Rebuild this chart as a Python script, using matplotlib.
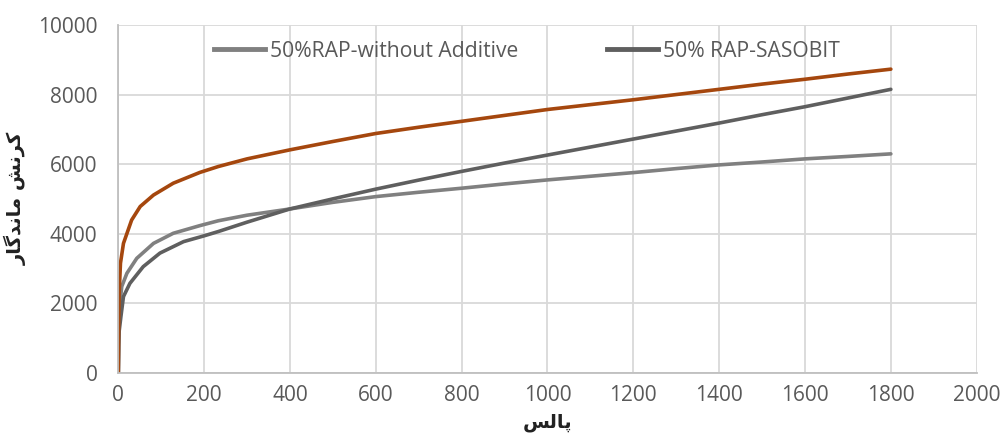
import matplotlib
matplotlib.use('Agg')
import matplotlib.pyplot as plt
from matplotlib.lines import Line2D

# values (pulse count vs permanent strain)
x_orange = [0, 1, 2, 5, 12, 31, 51, 82, 128, 190, 233, 300, 400, 500, 600, 700,
            800, 900, 1000, 1100, 1200, 1300, 1400, 1500, 1600, 1700, 1800]
y_orange = [0, 1500, 2300, 3150, 3720, 4390, 4780, 5110, 5450, 5760, 5930, 6150,
            6410, 6650, 6880, 7060, 7230, 7400, 7570, 7710, 7850, 8000, 8150,
            8300, 8440, 8590, 8730]

x_sasobit = [0, 1, 2, 6, 12, 27, 58, 97, 152, 198, 233, 300, 400, 500, 600, 700,
             800, 900, 1000, 1100, 1200, 1300, 1400, 1500, 1600, 1700, 1800]
y_sasobit = [0, 800, 1200, 1610, 2190, 2570, 3050, 3440, 3770, 3930, 4060, 4330,
             4710, 5000, 5280, 5540, 5790, 6030, 6260, 6490, 6720, 6950, 7180,
             7420, 7650, 7900, 8150]

x_noadd = [0, 1, 3, 8, 20, 43, 82, 128, 190, 233, 300, 400, 500, 600, 700, 800,
           900, 1000, 1100, 1200, 1300, 1400, 1500, 1600, 1700, 1800]
y_noadd = [0, 1200, 1900, 2480, 2860, 3290, 3720, 4010, 4230, 4370, 4530, 4710,
           4900, 5065, 5190, 5306, 5430, 5545, 5650, 5755, 5870, 5977, 6060,
           6150, 6220, 6294]

legend_labels = ['50%RAP-without Additive', '50% RAP-SASOBIT']
x_ticks = list(range(0, 2001, 200))
y_ticks = list(range(0, 10001, 2000))

xlabel_fa = 'پالس'
ylabel_fa = 'کرنش ماندگار'

ORANGE = '#A5470E'
LIGHT = '#808080'
DARK = '#5f5f5f'
TXT = '#595959'

# matplotlib has no arabic shaping, so pick presentation forms by hand
# (isolated, final, initial, medial)
FORMS = {
    'ا': ('\uFE8D', '\uFE8E', None, None),
    'ر': ('\uFEAD', '\uFEAE', None, None),
    'د': ('\uFEA9', '\uFEAA', None, None),
    'ن': ('\uFEE5', '\uFEE6', '\uFEE7', '\uFEE8'),
    'ش': ('\uFEB5', '\uFEB6', '\uFEB7', '\uFEB8'),
    'م': ('\uFEE1', '\uFEE2', '\uFEE3', '\uFEE4'),
    'ک': ('\uFB8E', '\uFB8F', '\uFB90', '\uFB91'),
    'گ': ('\uFB92', '\uFB93', '\uFB94', '\uFB95'),
    'پ': ('\uFB56', '\uFB57', '\uFB58', '\uFB59'),
    'ل': ('\uFEDD', '\uFEDE', '\uFEDF', '\uFEE0'),
    'س': ('\uFEB1', '\uFEB2', '\uFEB3', '\uFEB4'),
}


def shape_fa(text):
    out = []
    for i, ch in enumerate(text):
        if ch not in FORMS:
            out.append(ch)
            continue
        prev = text[i - 1] if i > 0 else ''
        nxt = text[i + 1] if i + 1 < len(text) else ''
        jp = prev in FORMS and FORMS[prev][2] is not None
        jn = FORMS[ch][2] is not None and nxt in FORMS
        if jp and jn:
            out.append(FORMS[ch][3])
        elif jp:
            out.append(FORMS[ch][1])
        elif jn:
            out.append(FORMS[ch][2])
        else:
            out.append(FORMS[ch][0])
    return ''.join(out[::-1])


plt.rcParams['font.family'] = ['Open Sans', 'DejaVu Sans']

fig = plt.figure(figsize=(10.01, 4.37), dpi=100)
ax = fig.add_axes([0.1182, 0.1471, 0.8575, 0.7957])

ax.plot(x_noadd, y_noadd, color=LIGHT, lw=2.6, solid_capstyle='round')
ax.plot(x_sasobit, y_sasobit, color=DARK, lw=2.6, solid_capstyle='round')
ax.plot(x_orange, y_orange, color=ORANGE, lw=2.6, solid_capstyle='round')

ax.set_xlim(0, 2000)
ax.set_ylim(0, 10000)
ax.set_xticks(x_ticks)
ax.set_yticks(y_ticks)
ax.grid(True, color='#d9d9d9', lw=1.3)
ax.set_axisbelow(True)
for s in ['top', 'right']:
    ax.spines[s].set_visible(False)
for s in ['left', 'bottom']:
    ax.spines[s].set_color('#bfbfbf')
    ax.spines[s].set_linewidth(1.3)
ax.tick_params(length=0, labelsize=15, colors=TXT)
ax.tick_params(axis='y', pad=15)
ax.tick_params(axis='x', pad=9)

handles = [Line2D([], [], color=LIGHT, lw=3.5),
           Line2D([], [], color=DARK, lw=3.5)]
ax.legend(handles, legend_labels, loc='upper center', ncol=2, frameon=False,
          bbox_to_anchor=(0.4765, 1.01), fontsize=15.2, labelcolor=TXT,
          handlelength=2.4, handletextpad=0.25, columnspacing=4.2)

ax.set_xlabel(shape_fa(xlabel_fa), family='DejaVu Sans', fontweight='bold',
              fontsize=14, color='#222222', labelpad=5)
ax.set_ylabel(shape_fa(ylabel_fa), family='DejaVu Sans', fontweight='bold',
              fontsize=14, color='#222222', labelpad=8)

fig.savefig('out.png', dpi=100)
